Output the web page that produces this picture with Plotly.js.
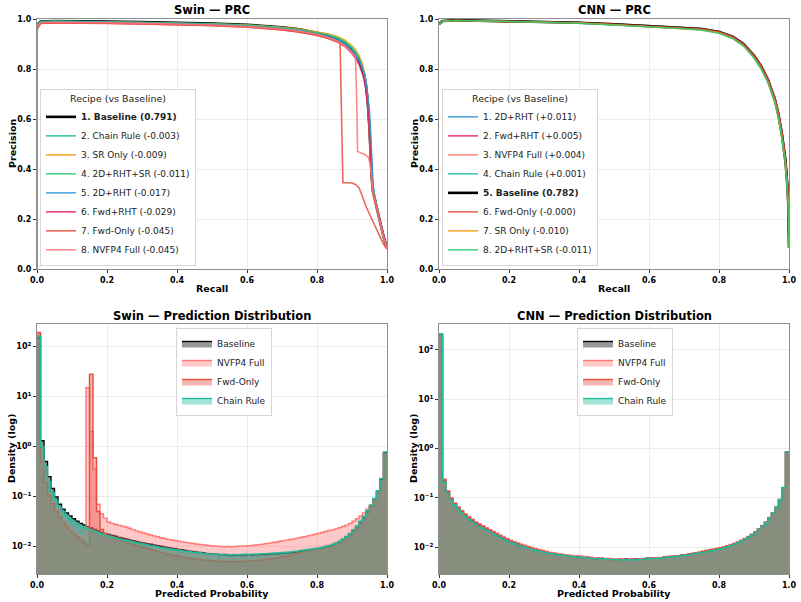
<!DOCTYPE html>
<html>
<head>
<meta charset="utf-8">
<script src="https://cdn.plot.ly/plotly-3.0.1.min.js"></script>
<style>
html, body { margin: 0; padding: 0; background: #ffffff; }
#chart { width: 801px; height: 602px; }
</style>
</head>
<body>
<div id="chart"></div>
<script>
// ---------- Precision-recall curves: Swin ----------
const swinLabels = [
  '1. Baseline (0.791)', '2. Chain Rule (-0.003)', '3. SR Only (-0.009)', '4. 2D+RHT+SR (-0.011)',
  '5. 2D+RHT (-0.017)', '6. Fwd+RHT (-0.029)', '7. Fwd-Only (-0.045)', '8. NVFP4 Full (-0.045)'
];
const swinRecall = [0, 0.01, 0.05, 0.1, 0.2, 0.3, 0.4, 0.5, 0.6, 0.65,
  0.7, 0.75, 0.8, 0.83, 0.86, 0.88, 0.9, 0.91, 0.92, 0.93,
  0.935, 0.94, 0.945, 0.95, 0.953, 0.956, 0.96, 0.965, 0.97, 0.975,
  0.98, 0.99, 1.0];
const swinPrecBaseline = [0.975, 0.990, 0.992, 0.992, 0.990, 0.988, 0.986, 0.982, 0.977, 0.973,
  0.967, 0.959, 0.946, 0.936, 0.920, 0.903, 0.878, 0.860, 0.837, 0.800,
  0.775, 0.735, 0.670, 0.560, 0.460, 0.370, 0.310, 0.280, 0.250, 0.220,
  0.190, 0.130, 0.085];
const swinPrecChain = [0.975, 0.989, 0.991, 0.991, 0.989, 0.987, 0.985, 0.981, 0.976, 0.972,
  0.966, 0.958, 0.946, 0.937, 0.922, 0.906, 0.882, 0.865, 0.842, 0.805,
  0.780, 0.740, 0.675, 0.570, 0.470, 0.380, 0.320, 0.285, 0.250, 0.220,
  0.190, 0.130, 0.085];
const swinPrecSR = [0.970, 0.988, 0.990, 0.990, 0.988, 0.986, 0.984, 0.980, 0.976, 0.972,
  0.967, 0.960, 0.950, 0.941, 0.929, 0.915, 0.893, 0.877, 0.855, 0.820,
  0.790, 0.745, 0.670, 0.550, 0.440, 0.350, 0.300, 0.270, 0.240, 0.210,
  0.180, 0.125, 0.085];
const swinPrec2dRhtSr = [0.975, 0.990, 0.992, 0.991, 0.989, 0.987, 0.984, 0.980, 0.975, 0.971,
  0.965, 0.957, 0.946, 0.937, 0.924, 0.909, 0.886, 0.869, 0.846, 0.810,
  0.784, 0.745, 0.680, 0.575, 0.475, 0.385, 0.320, 0.285, 0.250, 0.220,
  0.190, 0.130, 0.085];
const swinPrec2dRht = [0.970, 0.987, 0.989, 0.989, 0.987, 0.985, 0.982, 0.978, 0.972, 0.968,
  0.962, 0.954, 0.941, 0.931, 0.916, 0.900, 0.876, 0.858, 0.836, 0.803,
  0.782, 0.750, 0.700, 0.630, 0.550, 0.440, 0.340, 0.290, 0.250, 0.220,
  0.190, 0.130, 0.085];
const swinRecallFwdRht = [0, 0, 0.01, 0.05, 0.1, 0.2, 0.3, 0.4, 0.5, 0.6, 0.65,
  0.7, 0.75, 0.8, 0.83, 0.86, 0.88, 0.9, 0.91, 0.92, 0.93,
  0.935, 0.94, 0.945, 0.95, 0.953, 0.956, 0.96, 0.965, 0.97, 0.975,
  0.98, 0.99, 1.0];
const swinPrecFwdRht = [0.0, 0.960, 0.983, 0.985, 0.985, 0.983, 0.981, 0.978, 0.974, 0.968, 0.963,
  0.957, 0.948, 0.935, 0.924, 0.907, 0.890, 0.862, 0.843, 0.818, 0.780,
  0.755, 0.715, 0.650, 0.540, 0.450, 0.360, 0.310, 0.280, 0.250, 0.220,
  0.190, 0.135, 0.085];
const swinRecallFwdOnly = [0, 0.01, 0.05, 0.1, 0.2, 0.3, 0.4, 0.5, 0.6, 0.65,
  0.7, 0.75, 0.8, 0.83, 0.85, 0.866, 0.870, 0.874, 0.88, 0.90,
  0.91, 0.92, 0.93, 0.94, 0.95, 0.96, 0.97, 0.98, 0.99, 1.0];
const swinPrecFwdOnly = [0.960, 0.982, 0.984, 0.984, 0.982, 0.980, 0.977, 0.973, 0.967, 0.962,
  0.956, 0.947, 0.934, 0.923, 0.913, 0.905, 0.620, 0.345, 0.345, 0.344,
  0.338, 0.325, 0.290, 0.250, 0.220, 0.190, 0.160, 0.130, 0.100, 0.080];
const swinRecallNvfp4 = [0, 0.01, 0.05, 0.1, 0.2, 0.3, 0.4, 0.5, 0.6, 0.65,
  0.7, 0.75, 0.8, 0.83, 0.86, 0.88, 0.9, 0.91, 0.913, 0.916,
  0.93, 0.94, 0.947, 0.952, 0.956, 0.96, 0.97, 0.98, 0.99, 1.0];
const swinPrecNvfp4 = [0.965, 0.985, 0.987, 0.987, 0.985, 0.983, 0.980, 0.976, 0.970, 0.966,
  0.960, 0.951, 0.938, 0.927, 0.910, 0.893, 0.868, 0.852, 0.700, 0.470,
  0.462, 0.455, 0.445, 0.420, 0.360, 0.310, 0.250, 0.190, 0.130, 0.085];

// ---------- Precision-recall curves: CNN ----------
const cnnLabels = [
  '1. 2D+RHT (+0.011)', '2. Fwd+RHT (+0.005)', '3. NVFP4 Full (+0.004)', '4. Chain Rule (+0.001)',
  '5. Baseline (0.782)', '6. Fwd-Only (-0.000)', '7. SR Only (-0.010)', '8. 2D+RHT+SR (-0.011)'
];
const cnnRecall = [0, 0.01, 0.05, 0.1, 0.2, 0.3, 0.4, 0.5, 0.6, 0.7, 0.75, 0.8,
  0.84, 0.87, 0.9, 0.92, 0.94, 0.96, 0.97, 0.98, 0.99, 0.995, 0.998, 1.0];
const cnnPrec2dRht = [0.980, 0.993, 0.995, 0.995, 0.993, 0.990, 0.986, 0.981, 0.974, 0.967, 0.962, 0.951,
  0.931, 0.904, 0.858, 0.817, 0.763, 0.685, 0.627, 0.548, 0.445, 0.352, 0.270, 0.085];
const cnnPrecFwdRht = [0.978, 0.992, 0.995, 0.994, 0.992, 0.990, 0.986, 0.980, 0.973, 0.966, 0.961, 0.950,
  0.930, 0.902, 0.856, 0.815, 0.761, 0.684, 0.626, 0.548, 0.446, 0.356, 0.275, 0.085];
const cnnPrecNvfp4 = [0.978, 0.992, 0.995, 0.994, 0.992, 0.989, 0.985, 0.980, 0.973, 0.966, 0.961, 0.950,
  0.929, 0.901, 0.855, 0.814, 0.760, 0.682, 0.624, 0.545, 0.442, 0.352, 0.270, 0.085];
const cnnPrecChain = [0.980, 0.992, 0.995, 0.994, 0.992, 0.989, 0.985, 0.979, 0.972, 0.965, 0.960, 0.948,
  0.927, 0.899, 0.853, 0.811, 0.756, 0.677, 0.617, 0.538, 0.433, 0.343, 0.262, 0.085];
const cnnPrecBaseline = [0.980, 0.992, 0.995, 0.994, 0.992, 0.989, 0.985, 0.979, 0.972, 0.965, 0.960, 0.948,
  0.927, 0.899, 0.852, 0.810, 0.755, 0.675, 0.615, 0.535, 0.430, 0.340, 0.260, 0.085];
const cnnPrecFwdOnly = [0.979, 0.992, 0.995, 0.994, 0.992, 0.989, 0.985, 0.979, 0.972, 0.965, 0.960, 0.949,
  0.928, 0.900, 0.854, 0.813, 0.760, 0.682, 0.625, 0.546, 0.444, 0.355, 0.272, 0.085];
const cnnPrecSR = [0.980, 0.991, 0.994, 0.993, 0.991, 0.988, 0.984, 0.977, 0.970, 0.962, 0.957, 0.945,
  0.923, 0.894, 0.846, 0.803, 0.747, 0.666, 0.605, 0.525, 0.420, 0.330, 0.252, 0.085];
const cnnPrec2dRhtSr = [0.980, 0.991, 0.994, 0.993, 0.990, 0.987, 0.983, 0.976, 0.969, 0.961, 0.955, 0.943,
  0.921, 0.892, 0.844, 0.801, 0.745, 0.664, 0.603, 0.522, 0.417, 0.327, 0.248, 0.085];

// ---------- Prediction histograms (density per bin, 100 equal bins on [0, 1]) ----------
const histLabels = ['Baseline', 'NVFP4 Full', 'Fwd-Only', 'Chain Rule'];
const swinHistBaseline = [148, 1.3, 0.5, 0.25, 0.145, 0.098, 0.07, 0.056, 0.047, 0.041,
  0.036, 0.032, 0.029, 0.027, 0.025, 0.0235, 0.022, 0.0205, 0.0192, 0.0183,
  0.0174, 0.0166, 0.016, 0.0152, 0.0146, 0.0141, 0.0135, 0.013, 0.0126, 0.0121,
  0.0118, 0.0114, 0.0111, 0.0107, 0.0104, 0.0101, 0.0098, 0.0095, 0.0093, 0.0090,
  0.0087, 0.0086, 0.0083, 0.0081, 0.0080, 0.0078, 0.0076, 0.0075, 0.0073, 0.0072,
  0.0071, 0.0070, 0.0068, 0.0069, 0.0067, 0.0066, 0.0066, 0.0067, 0.0066, 0.0067,
  0.0068, 0.0067, 0.0068, 0.0068, 0.0069, 0.0069, 0.0070, 0.0071, 0.0071, 0.0072,
  0.0073, 0.0074, 0.0075, 0.0077, 0.0078, 0.0080, 0.0082, 0.0084, 0.0086, 0.0088,
  0.0090, 0.0093, 0.0097, 0.0101, 0.0107, 0.0114, 0.0124, 0.0138, 0.0155, 0.0178,
  0.021, 0.025, 0.031, 0.039, 0.050, 0.065, 0.088, 0.125, 0.22, 0.75];
const swinHistNvfp4 = [175, 0.55, 0.21, 0.115, 0.078, 0.055, 0.042, 0.034, 0.028, 0.024,
  0.021, 0.0185, 0.0165, 0.0148, 15, 2.0, 0.35, 0.07, 0.045, 0.037,
  0.031, 0.029, 0.0275, 0.0265, 0.0255, 0.0245, 0.0232, 0.0218, 0.0205, 0.0195,
  0.0186, 0.0178, 0.0170, 0.0163, 0.0157, 0.0150, 0.0145, 0.0139, 0.0135, 0.0131,
  0.0128, 0.0124, 0.0121, 0.0118, 0.0115, 0.0112, 0.0110, 0.0108, 0.0106, 0.0104,
  0.0102, 0.0101, 0.0100, 0.0099, 0.0100, 0.0099, 0.0100, 0.0101, 0.0101, 0.0102,
  0.0104, 0.0105, 0.0107, 0.0109, 0.0111, 0.0114, 0.0117, 0.0120, 0.0123, 0.0127,
  0.0131, 0.0134, 0.0138, 0.0142, 0.0147, 0.0151, 0.0157, 0.0163, 0.0169, 0.0176,
  0.0183, 0.0191, 0.0200, 0.0209, 0.0215, 0.0225, 0.0238, 0.0252, 0.0268, 0.0290,
  0.032, 0.036, 0.041, 0.047, 0.056, 0.068, 0.088, 0.125, 0.21, 0.70];
const swinHistFwdOnly = [190, 0.5, 0.19, 0.105, 0.072, 0.051, 0.039, 0.031, 0.025, 0.021,
  0.018, 0.0158, 0.0138, 0.0122, 0.0106, 28, 0.6, 0.05, 0.022, 0.018,
  0.0165, 0.0155, 0.0145, 0.0136, 0.0128, 0.0121, 0.0115, 0.0110, 0.0105, 0.0100,
  0.0095, 0.0091, 0.0087, 0.0083, 0.0079, 0.0076, 0.0073, 0.0070, 0.0068, 0.0066,
  0.0064, 0.0062, 0.0060, 0.0059, 0.0057, 0.0056, 0.0055, 0.0054, 0.0053, 0.0052,
  0.0052, 0.0051, 0.0050, 0.0051, 0.0049, 0.0050, 0.0049, 0.0050, 0.0051, 0.0050,
  0.0051, 0.0052, 0.0052, 0.0053, 0.0054, 0.0056, 0.0057, 0.0058, 0.0060, 0.0061,
  0.0063, 0.0065, 0.0067, 0.0070, 0.0072, 0.0075, 0.0078, 0.0081, 0.0084, 0.0088,
  0.0092, 0.0096, 0.0100, 0.0105, 0.0110, 0.0117, 0.0125, 0.0136, 0.0150, 0.0170,
  0.0198, 0.0235, 0.029, 0.036, 0.047, 0.062, 0.085, 0.122, 0.21, 0.72];
const swinHistChain = [160, 1.0, 0.4, 0.2, 0.12, 0.083, 0.062, 0.05, 0.042, 0.036,
  0.032, 0.029, 0.0265, 0.0245, 0.0228, 0.0213, 0.02, 0.0188, 0.0178, 0.0169,
  0.0161, 0.0154, 0.0148, 0.0142, 0.0137, 0.0132, 0.0127, 0.0123, 0.0119, 0.0115,
  0.0111, 0.0108, 0.0104, 0.0101, 0.0098, 0.0095, 0.0093, 0.0090, 0.0088, 0.0086,
  0.0084, 0.0082, 0.0080, 0.0079, 0.0077, 0.0076, 0.0075, 0.0073, 0.0072, 0.0071,
  0.0071, 0.0069, 0.0069, 0.0068, 0.0069, 0.0068, 0.0069, 0.0068, 0.0069, 0.0070,
  0.0069, 0.0070, 0.0071, 0.0071, 0.0072, 0.0072, 0.0073, 0.0074, 0.0074, 0.0075,
  0.0076, 0.0077, 0.0078, 0.0080, 0.0081, 0.0083, 0.0085, 0.0087, 0.0089, 0.0091,
  0.0093, 0.0096, 0.0100, 0.0104, 0.0110, 0.0117, 0.0127, 0.0141, 0.0158, 0.0182,
  0.0215, 0.0257, 0.032, 0.040, 0.052, 0.067, 0.091, 0.13, 0.23, 0.78];

const cnnHistBaseline = [200, 0.22, 0.13, 0.095, 0.075, 0.062, 0.053, 0.045, 0.039, 0.035,
  0.031, 0.028, 0.026, 0.0235, 0.0215, 0.0196, 0.0178, 0.0163, 0.0150, 0.0139,
  0.0129, 0.0121, 0.0114, 0.0108, 0.0103, 0.0098, 0.0094, 0.0090, 0.0087, 0.0084,
  0.0081, 0.0078, 0.0076, 0.0074, 0.0072, 0.0071, 0.0069, 0.0068, 0.0067, 0.0066,
  0.0065, 0.0064, 0.0063, 0.0062, 0.0061, 0.0060, 0.0060, 0.0059, 0.0059, 0.0058,
  0.0058, 0.0058, 0.0057, 0.0058, 0.0057, 0.0058, 0.0058, 0.0059, 0.0059, 0.0060,
  0.0060, 0.0061, 0.0061, 0.0062, 0.0063, 0.0064, 0.0065, 0.0066, 0.0067, 0.0069,
  0.0070, 0.0072, 0.0074, 0.0076, 0.0078, 0.0080, 0.0082, 0.0085, 0.0088, 0.0091,
  0.0095, 0.0099, 0.0104, 0.0110, 0.0117, 0.0125, 0.0135, 0.0147, 0.0162, 0.0180,
  0.0203, 0.0232, 0.027, 0.032, 0.039, 0.049, 0.064, 0.092, 0.16, 0.85];
const cnnHistNvfp4 = [190, 0.24, 0.14, 0.10, 0.079, 0.066, 0.056, 0.048, 0.042, 0.037,
  0.033, 0.030, 0.0275, 0.025, 0.0228, 0.021, 0.0192, 0.0176, 0.0162, 0.0150,
  0.0139, 0.0130, 0.0122, 0.0116, 0.0110, 0.0104, 0.0099, 0.0095, 0.0091, 0.0087,
  0.0083, 0.0080, 0.0078, 0.0076, 0.0074, 0.0072, 0.0071, 0.0069, 0.0068, 0.0067,
  0.0066, 0.0065, 0.0063, 0.0063, 0.0062, 0.0060, 0.0061, 0.0059, 0.0060, 0.0058,
  0.0059, 0.0058, 0.0058, 0.0057, 0.0058, 0.0058, 0.0057, 0.0059, 0.0058, 0.0060,
  0.0059, 0.0061, 0.0062, 0.0062, 0.0063, 0.0065, 0.0065, 0.0067, 0.0068, 0.0070,
  0.0071, 0.0073, 0.0075, 0.0077, 0.0080, 0.0082, 0.0085, 0.0088, 0.0091, 0.0095,
  0.0098, 0.0103, 0.0108, 0.0114, 0.0121, 0.0129, 0.0139, 0.0151, 0.0166, 0.0185,
  0.0208, 0.0238, 0.0276, 0.0328, 0.040, 0.050, 0.065, 0.093, 0.16, 0.82];
const cnnHistFwdOnly = [205, 0.23, 0.135, 0.098, 0.077, 0.064, 0.054, 0.046, 0.040, 0.036,
  0.032, 0.029, 0.0265, 0.024, 0.022, 0.0202, 0.0185, 0.0170, 0.0157, 0.0145,
  0.0134, 0.0126, 0.0118, 0.0111, 0.0105, 0.0100, 0.0095, 0.0091, 0.0087, 0.0084,
  0.0081, 0.0078, 0.0075, 0.0073, 0.0071, 0.0069, 0.0067, 0.0065, 0.0064, 0.0063,
  0.0062, 0.0061, 0.0060, 0.0059, 0.0058, 0.0057, 0.0057, 0.0056, 0.0055, 0.0056,
  0.0055, 0.0054, 0.0055, 0.0056, 0.0055, 0.0056, 0.0057, 0.0056, 0.0058, 0.0059,
  0.0059, 0.0060, 0.0061, 0.0062, 0.0063, 0.0064, 0.0065, 0.0067, 0.0068, 0.0070,
  0.0071, 0.0073, 0.0075, 0.0078, 0.0080, 0.0083, 0.0086, 0.0089, 0.0092, 0.0095,
  0.0098, 0.0102, 0.0107, 0.0112, 0.0119, 0.0127, 0.0137, 0.0149, 0.0164, 0.0183,
  0.0205, 0.0235, 0.0273, 0.0324, 0.0395, 0.0495, 0.0645, 0.093, 0.16, 0.84];
const cnnHistChain = [210, 0.21, 0.125, 0.091, 0.072, 0.059, 0.050, 0.043, 0.037, 0.033,
  0.0295, 0.0266, 0.0244, 0.0223, 0.0205, 0.0188, 0.0173, 0.0159, 0.0146, 0.0135,
  0.0126, 0.0118, 0.0111, 0.0105, 0.0100, 0.0095, 0.0091, 0.0087, 0.0084, 0.0081,
  0.0078, 0.0076, 0.0074, 0.0072, 0.0070, 0.0069, 0.0067, 0.0066, 0.0065, 0.0064,
  0.0063, 0.0062, 0.0061, 0.0060, 0.0059, 0.0059, 0.0058, 0.0058, 0.0057, 0.0057,
  0.0056, 0.0056, 0.0055, 0.0056, 0.0055, 0.0056, 0.0056, 0.0057, 0.0057, 0.0058,
  0.0059, 0.0059, 0.0060, 0.0061, 0.0062, 0.0063, 0.0064, 0.0065, 0.0066, 0.0068,
  0.0069, 0.0071, 0.0073, 0.0075, 0.0077, 0.0079, 0.0081, 0.0084, 0.0087, 0.0090,
  0.0094, 0.0098, 0.0103, 0.0109, 0.0116, 0.0124, 0.0134, 0.0146, 0.0161, 0.0179,
  0.0202, 0.0231, 0.0268, 0.0318, 0.0388, 0.0488, 0.0638, 0.092, 0.162, 0.86];

const logTickVals = [0.01, 0.1, 1, 10, 100];
const logTickText = ['10<sup>\u22122</sup>', '10<sup>\u22121</sup>', '10<sup>0</sup>', '10<sup>1</sup>', '10<sup>2</sup>'];

// ---------- styling ----------
const FONT = 'DejaVu Sans';
const COL = {
  baseline: '#000000', chain: '#1abc9c', sr: '#f39c12', rhtsr: '#2ecc71',
  rht: '#3498db', fwdrht: '#e91e63', fwd: '#e74c3c', nvfp4: '#ff7675'
};
const W = 801, H = 602;
const px = v => v / W;           // horizontal pixel -> paper
const py = v => 1 - v / H;       // vertical pixel -> paper

function prLine(x, y, label, color, xa, ya, leg, isBase) {
  return {
    type: 'scatter', mode: 'lines', x: x, y: y,
    name: isBase ? '<b>' + label + '</b>' : label,
    line: { color: color, width: isBase ? 2.6 : 1.6 },
    opacity: isBase ? 1 : 0.85,
    xaxis: xa, yaxis: ya, legend: leg, hoverinfo: 'skip'
  };
}

function histStep(vals, label, edge, fill, xa, ya, leg) {
  const n = vals.length;
  const x = vals.map((v, i) => i / n).concat([1]);
  const y = vals.concat([vals[n - 1]]);
  return {
    type: 'scatter', mode: 'lines', x: x, y: y, name: label,
    line: { color: edge, width: 1.4, shape: 'hv' },
    fill: 'tozeroy', fillcolor: fill,
    xaxis: xa, yaxis: ya, legend: leg, hoverinfo: 'skip'
  };
}

const traces = [
  prLine(swinRecall, swinPrecBaseline, swinLabels[0], COL.baseline, 'x', 'y', 'legend', true),
  prLine(swinRecall, swinPrecChain, swinLabels[1], COL.chain, 'x', 'y', 'legend'),
  prLine(swinRecall, swinPrecSR, swinLabels[2], COL.sr, 'x', 'y', 'legend'),
  prLine(swinRecall, swinPrec2dRhtSr, swinLabels[3], COL.rhtsr, 'x', 'y', 'legend'),
  prLine(swinRecall, swinPrec2dRht, swinLabels[4], COL.rht, 'x', 'y', 'legend'),
  prLine(swinRecallFwdRht, swinPrecFwdRht, swinLabels[5], COL.fwdrht, 'x', 'y', 'legend'),
  prLine(swinRecallFwdOnly, swinPrecFwdOnly, swinLabels[6], COL.fwd, 'x', 'y', 'legend'),
  prLine(swinRecallNvfp4, swinPrecNvfp4, swinLabels[7], COL.nvfp4, 'x', 'y', 'legend'),

  prLine(cnnRecall, cnnPrec2dRht, cnnLabels[0], COL.rht, 'x2', 'y2', 'legend2'),
  prLine(cnnRecall, cnnPrecFwdRht, cnnLabels[1], COL.fwdrht, 'x2', 'y2', 'legend2'),
  prLine(cnnRecall, cnnPrecNvfp4, cnnLabels[2], COL.nvfp4, 'x2', 'y2', 'legend2'),
  prLine(cnnRecall, cnnPrecChain, cnnLabels[3], COL.chain, 'x2', 'y2', 'legend2'),
  prLine(cnnRecall, cnnPrecBaseline, cnnLabels[4], COL.baseline, 'x2', 'y2', 'legend2', true),
  prLine(cnnRecall, cnnPrecFwdOnly, cnnLabels[5], COL.fwd, 'x2', 'y2', 'legend2'),
  prLine(cnnRecall, cnnPrecSR, cnnLabels[6], COL.sr, 'x2', 'y2', 'legend2'),
  prLine(cnnRecall, cnnPrec2dRhtSr, cnnLabels[7], COL.rhtsr, 'x2', 'y2', 'legend2'),

  histStep(swinHistBaseline, histLabels[0], '#000000', 'rgba(0,0,0,0.4)', 'x3', 'y3', 'legend3'),
  histStep(swinHistNvfp4, histLabels[1], COL.nvfp4, 'rgba(255,118,117,0.4)', 'x3', 'y3', 'legend3'),
  histStep(swinHistFwdOnly, histLabels[2], COL.fwd, 'rgba(231,76,60,0.4)', 'x3', 'y3', 'legend3'),
  histStep(swinHistChain, histLabels[3], COL.chain, 'rgba(26,188,156,0.4)', 'x3', 'y3', 'legend3'),

  histStep(cnnHistBaseline, histLabels[0], '#000000', 'rgba(0,0,0,0.4)', 'x4', 'y4', 'legend4'),
  histStep(cnnHistNvfp4, histLabels[1], COL.nvfp4, 'rgba(255,118,117,0.4)', 'x4', 'y4', 'legend4'),
  histStep(cnnHistFwdOnly, histLabels[2], COL.fwd, 'rgba(231,76,60,0.4)', 'x4', 'y4', 'legend4'),
  histStep(cnnHistChain, histLabels[3], COL.chain, 'rgba(26,188,156,0.4)', 'x4', 'y4', 'legend4')
];

const tickFont = { family: FONT, size: 8, color: '#000', weight: 'bold' };
function axisBase(domain, anchor) {
  return {
    domain: domain, anchor: anchor,
    showline: true, mirror: true, linecolor: '#8f8f8f', linewidth: 1,
    ticks: 'outside', ticklen: 3, tickwidth: 1, tickcolor: '#333',
    showgrid: true, gridcolor: '#ececec', gridwidth: 1,
    zeroline: false, tickfont: tickFont, fixedrange: true
  };
}
function linX(domain, anchor) {
  return Object.assign(axisBase(domain, anchor), { range: [0, 1], dtick: 0.2, tick0: 0, tickformat: '.1f' });
}
function linY(domain, anchor) {
  return Object.assign(axisBase(domain, anchor), { range: [0, 1], dtick: 0.2, tick0: 0, tickformat: '.1f' });
}
function logY(domain, anchor, range) {
  return Object.assign(axisBase(domain, anchor), {
    type: 'log', range: range, tickmode: 'array', tickvals: logTickVals, ticktext: logTickText
  });
}

const leftX = [px(37), px(387)];
const rightX = [px(439), px(789)];
const topY = [py(269), py(19)];
const botY = [py(574), py(324)];

function legendBox(x, y, yanchor, withTitle) {
  const l = {
    x: x, y: y, xanchor: 'left', yanchor: yanchor,
    bgcolor: 'rgba(255,255,255,0.85)', bordercolor: '#d6d6d6', borderwidth: 1,
    font: { family: FONT, size: 9, color: '#222' },
    itemwidth: 30, tracegroupgap: 0, traceorder: 'normal'
  };
  if (withTitle) {
    l.title = { text: 'Recipe (vs Baseline)', side: 'top center', font: { family: FONT, size: 9.5, color: '#222' } };
  }
  return l;
}

function label(text, x, y, size, angle) {
  return {
    text: text, xref: 'paper', yref: 'paper', x: x, y: y,
    xanchor: 'center', yanchor: 'middle', showarrow: false, textangle: angle || 0,
    font: { family: FONT, size: size, color: '#000', weight: 'bold' }
  };
}

const layout = {
  width: W, height: H,
  margin: { l: 0, r: 0, t: 0, b: 0 },
  paper_bgcolor: '#ffffff', plot_bgcolor: '#ffffff',
  showlegend: true,
  xaxis: linX(leftX, 'y'), yaxis: linY(topY, 'x'),
  xaxis2: linX(rightX, 'y2'), yaxis2: linY(topY, 'x2'),
  xaxis3: linX(leftX, 'y3'), yaxis3: logY(botY, 'x3', [-2.55, 2.45]),
  xaxis4: linX(rightX, 'y4'), yaxis4: logY(botY, 'x4', [-2.54, 2.52]),
  legend: legendBox(px(40), py(266), 'bottom', true),
  legend2: legendBox(px(442), py(266), 'bottom', true),
  legend3: legendBox(px(176), py(328), 'top', false),
  legend4: legendBox(px(577), py(328), 'top', false),
  annotations: [
    label('Swin \u2014 PRC', px(212), py(10), 11.5),
    label('CNN \u2014 PRC', px(614), py(10), 11.5),
    label('Swin \u2014 Prediction Distribution', px(212), py(316), 11.5),
    label('CNN \u2014 Prediction Distribution', px(614), py(316), 11.5),
    label('Recall', px(212), py(288), 9.5),
    label('Recall', px(614), py(288), 9.5),
    label('Predicted Probability', px(212), py(593), 9.5),
    label('Predicted Probability', px(614), py(593), 9.5),
    label('Precision', px(12), py(144), 9.5, -90),
    label('Precision', px(414), py(144), 9.5, -90),
    label('Density (log)', px(12), py(449), 9.5, -90),
    label('Density (log)', px(414), py(449), 9.5, -90)
  ]
};

Plotly.newPlot('chart', traces, layout, { staticPlot: true, displayModeBar: false });
</script>
</body>
</html>
